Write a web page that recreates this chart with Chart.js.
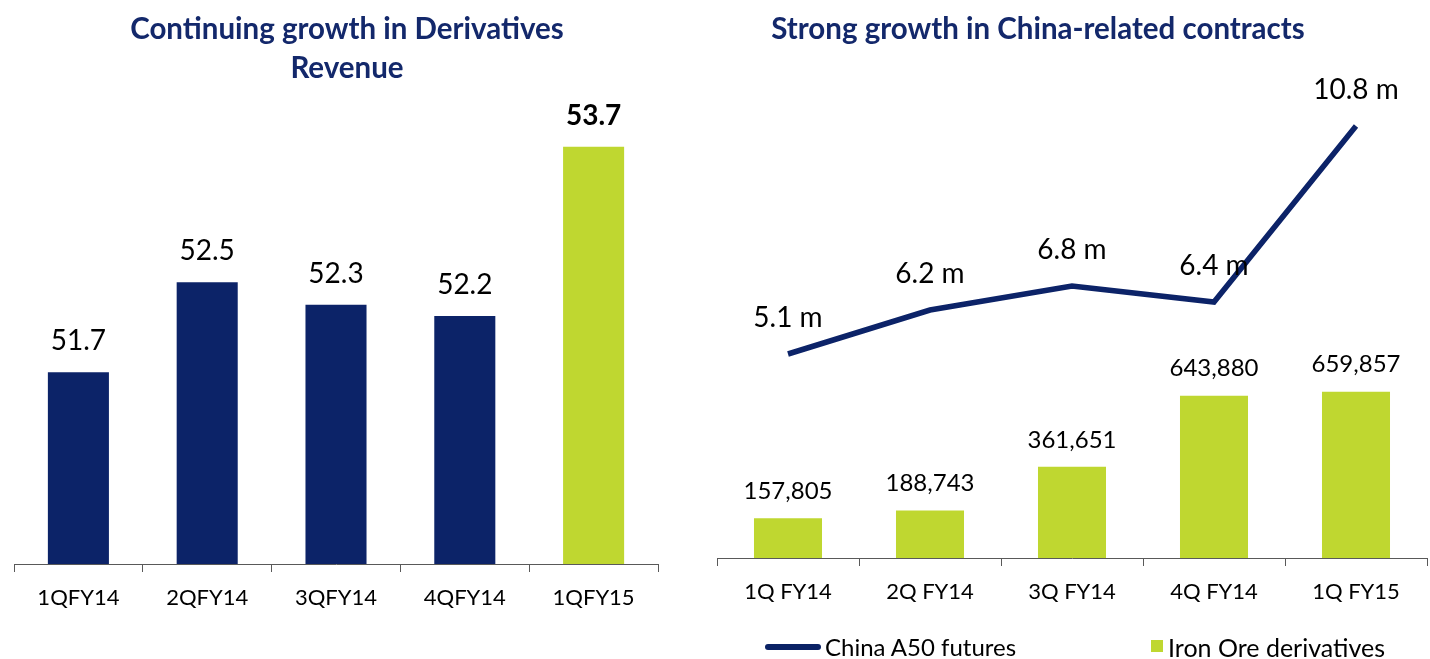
<!DOCTYPE html>
<html>
<head>
<meta charset="utf-8">
<script src="https://cdn.jsdelivr.net/npm/chart.js@4"></script>
<style>
  body { margin: 0; width: 1430px; height: 659px; background: #fff; position: relative; overflow: hidden; font-family: Lato, 'Open Sans', sans-serif; }
  .box { position: absolute; top: 0; height: 659px; }
  .title { position: absolute; text-align: center; color: #13286b; font-weight: bold; font-size: 29.5px; line-height: 39px; }
  .legend { position: absolute; font-size: 24px; color: #000; line-height: 24px; }
</style>
</head>
<body>
<div class="box" style="left:0;width:700px"><canvas id="revChart" width="700" height="659"></canvas></div>
<div class="box" style="left:700px;width:730px"><canvas id="chinaChart" width="730" height="659"></canvas></div>

<div class="title" style="left:0;width:694px;top:8px">Continuing growth in Derivatives<br>Revenue</div>
<div class="title" style="left:700px;width:676px;top:8px">Strong growth in China-related contracts</div>

<div style="position:absolute;left:765px;top:644px;width:56px;height:6px;border-radius:3px;background:#0b2265"></div>
<div class="legend" style="left:825px;top:635px">China A50 futures</div>
<div style="position:absolute;left:1151px;top:640px;width:12px;height:12px;background:#bfd730"></div>
<div class="legend" style="left:1168px;top:635px;font-size:25px">Iron Ore derivatives</div>

<script>
// --- data ---
const revQuarters = ['1QFY14', '2QFY14', '3QFY14', '4QFY14', '1QFY15'];
const revValues = [51.7, 52.5, 52.3, 52.2, 53.7];

const chinaQuarters = ['1Q FY14', '2Q FY14', '3Q FY14', '4Q FY14', '1Q FY15'];
const a50Millions = [5.1, 6.2, 6.8, 6.4, 10.8];
const ironOreContracts = [157805, 188743, 361651, 643880, 659857];

const NAVY = '#0c2368';
const GREEN = '#bfd730';
const AXIS = '#595959';
const FONT = "Lato, 'Open Sans', sans-serif";

// draws value labels above each bar / point (no datalabels plugin offline)
const valueLabels = {
    id: 'valueLabels',
    afterDatasetsDraw(chart) {
        const c = chart.ctx;
        chart.data.datasets.forEach((ds, di) => {
            if (!ds.labelFmt) return;
            const meta = chart.getDatasetMeta(di);
            meta.data.forEach((el, i) => {
                c.save();
                const bold = ds.labelBold && ds.labelBold[i];
                c.font = (bold ? 'bold ' : '') + ds.labelSize + 'px ' + FONT;
                c.fillStyle = '#000';
                c.textAlign = 'center';
                c.textBaseline = 'middle';
                c.fillText(ds.labelFmt(ds.data[i]), el.x, el.y - ds.labelGap);
                c.restore();
            });
        });
    }
};

function xAxis(height) {
    return {
        offset: true,
        grid: { offset: true, drawOnChartArea: false, drawTicks: true, tickLength: 8, color: AXIS },
        border: { display: true, color: AXIS, width: 1 },
        ticks: { color: '#000', font: { family: FONT, size: 22 }, padding: 13, maxRotation: 0, autoSkip: false },
        afterFit: s => { s.height = height; }
    };
}

// --- left chart: derivatives revenue ---
new Chart(document.getElementById('revChart'), {
    type: 'bar',
    data: {
        labels: revQuarters,
        datasets: [{
            data: revValues,
            backgroundColor: [NAVY, NAVY, NAVY, NAVY, GREEN],
            barPercentage: 0.474,
            categoryPercentage: 1,
            labelFmt: v => v.toFixed(1),
            labelSize: 28,
            labelGap: 31,
            labelBold: [false, false, false, false, true]
        }]
    },
    options: {
        responsive: false,
        animation: false,
        layout: { padding: { left: 14, right: 42, top: 113, bottom: 0 } },
        plugins: { legend: { display: false }, tooltip: { enabled: false } },
        scales: {
            x: xAxis(95),
            y: { display: false, min: 50, max: 54 }
        }
    },
    plugins: [valueLabels]
});

// --- right chart: China-related contracts ---
new Chart(document.getElementById('chinaChart'), {
    type: 'bar',
    data: {
        labels: chinaQuarters,
        datasets: [{
            type: 'line',
            label: 'China A50 futures',
            data: a50Millions,
            yAxisID: 'y1',
            borderColor: NAVY,
            borderWidth: 5.5,
            pointRadius: 0,
            tension: 0,
            order: 0,
            labelFmt: v => v.toFixed(1) + ' m',
            labelSize: 28,
            labelGap: 36
        }, {
            label: 'Iron Ore derivatives',
            data: ironOreContracts,
            yAxisID: 'y',
            backgroundColor: GREEN,
            barPercentage: 0.479,
            categoryPercentage: 1,
            order: 1,
            labelFmt: v => v.toLocaleString('en-US'),
            labelSize: 24,
            labelGap: 27
        }]
    },
    options: {
        responsive: false,
        animation: false,
        layout: { padding: { left: 17, right: 3, top: 100, bottom: 0 } },
        plugins: { legend: { display: false }, tooltip: { enabled: false } },
        scales: {
            x: xAxis(101),
            y: { display: false, min: 0, max: 1817000 },
            y1: { display: false, min: 0, max: 11.45 }
        }
    },
    plugins: [valueLabels]
});
</script>
</body>
</html>
